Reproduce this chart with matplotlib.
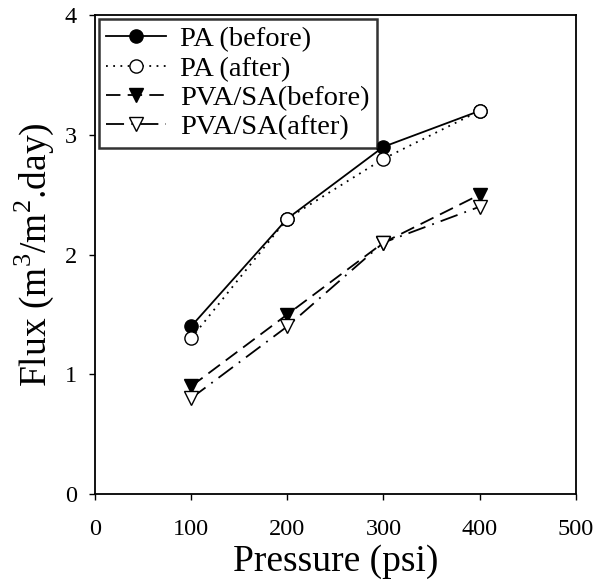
import numpy as np
import matplotlib.pyplot as plt

plt.rcParams['font.family'] = ['Liberation Serif', 'DejaVu Serif']
plt.rcParams['mathtext.fontset'] = 'custom'
plt.rcParams['mathtext.rm'] = 'Liberation Serif'

pressure = [100, 200, 300, 400]
pa_before = [1.4, 2.3, 2.9, 3.2]
pa_after = [1.3, 2.3, 2.8, 3.2]
pva_before = [0.9, 1.5, 2.1, 2.5]
pva_after = [0.8, 1.4, 2.1, 2.4]

fig = plt.figure(figsize=(6.08, 5.8), dpi=100)
ax = fig.add_axes([0.156, 0.148, 0.791, 0.826])

ax.plot(pressure, pa_before, color='black', lw=1.3, ls='-', marker='o', ms=9.5,
        mfc='black', mec='black', label='PA (before)')
ax.plot(pressure, pa_after, color='black', lw=1.3, ls=(0, (1, 3)), marker='o', ms=9.5,
        mfc='white', mec='black', label='PA (after)')
ax.plot(pressure, pva_before, color='black', lw=1.3, ls=(0, (8, 4)), marker='v', ms=9.5,
        mfc='black', mec='black', label='PVA/SA(before)')
ax.plot(pressure, pva_after, color='black', lw=1.3, ls=(0, (10, 4, 1, 4)), marker='v', ms=9.5,
        mfc='white', mec='black', label='PVA/SA(after)')

ax.set_xlim(0, 500)
ax.set_ylim(0, 4)
ax.set_xticks([0, 100, 200, 300, 400, 500])
ax.set_yticks([0, 1, 2, 3, 4])
ax.tick_params(direction='out', length=4, width=1, labelsize=17.5)
ax.tick_params(axis='x', pad=14)
ax.tick_params(axis='y', pad=9)
for s in ax.spines.values():
    s.set_linewidth(1.3)

ax.set_xlabel('Pressure (psi)', fontsize=27, labelpad=3)
ax.set_ylabel(r'Flux (m$^3$/m$^2$.day)', fontsize=27, labelpad=6)

leg = ax.legend(loc='upper left', fontsize=20.5, frameon=True, fancybox=False,
                edgecolor='black', borderpad=0.25, labelspacing=0.12,
                handlelength=2.1, handletextpad=0.5, borderaxespad=0.15)
leg.get_frame().set_linewidth(1.8)

fig.savefig('out.png', dpi=100)
